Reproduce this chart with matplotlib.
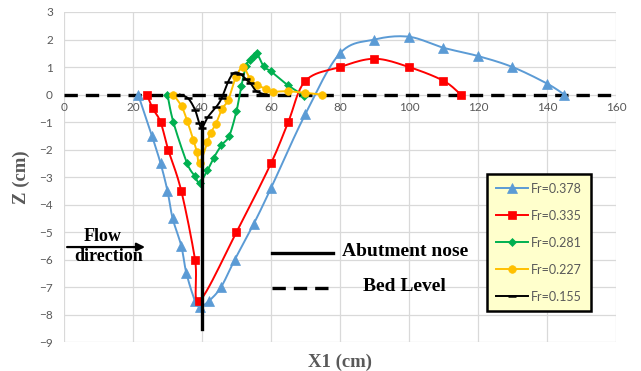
import numpy as np
import matplotlib
matplotlib.use('Agg')
import matplotlib.pyplot as plt

#%% data

x_378 = [21.5, 25.5, 28, 30, 31.5, 34, 35.5, 38, 39.5, 42, 45.5, 49.5, 55, 60, 70,
         80, 90, 100, 110, 120, 130, 140, 145]
z_378 = [0, -1.5, -2.5, -3.5, -4.5, -5.5, -6.5, -7.5, -7.7, -7.5, -7.0, -6.0, -4.7,
         -3.4, -0.7, 1.5, 2.0, 2.1, 1.7, 1.4, 1.0, 0.4, 0]

x_335 = [24, 25.7, 28, 30.2, 34, 38, 39.2, 50, 60, 65, 70, 80, 90, 100, 110, 115]
z_335 = [0, -0.5, -1.0, -2.0, -3.5, -6.0, -7.5, -5.0, -2.5, -1.0, 0.5, 1.0, 1.3,
         1.0, 0.5, 0]

x_281 = [30, 31.7, 35.7, 37.9, 39.3, 41.6, 43.4, 45.6, 47.9, 50, 51.4, 52.8, 54,
         55, 55.9, 57.9, 60, 64.8, 69.7]
z_281 = [0, -1.0, -2.5, -2.95, -3.2, -2.75, -2.3, -1.85, -1.5, -0.6, 0.3, 1.05,
         1.25, 1.4, 1.5, 1.02, 0.84, 0.35, -0.05]

x_227 = [31.7, 34.1, 35.7, 37.5, 38.5, 39.3, 41.6, 42.5, 44, 45.8, 47.6, 49.8,
         51.9, 53.9, 56, 58.5, 60.5, 65, 70, 74.7]
z_227 = [0, -0.43, -0.95, -1.65, -2.07, -2.5, -1.72, -1.4, -1.07, -0.52, -0.2,
         0.62, 1.0, 0.58, 0.35, 0.21, 0.11, 0.12, 0.06, 0]

x_155 = [33.6, 36, 38, 39.2, 40, 41.8, 44.2, 45.7, 47.6, 49.2, 51, 52.8, 54, 55.7, 57.8]
z_155 = [0, -0.14, -0.56, -1.04, -1.2, -0.8, -0.44, -0.13, 0.47, 0.78, 0.76,
         0.55, 0.42, 0.13, 0.02]

labels = ['Fr=0.378', 'Fr=0.335', 'Fr=0.281', 'Fr=0.227', 'Fr=0.155']
colors = ['#5B9BD5', '#FF0000', '#00B050', '#FFC000', '#000000']

nose_x = [40, 40]
nose_z = [-1.0, -8.5]
bed_x = [0, 160]
bed_z = [0, 0]

#%% helpers

def smooth(x, y, n=12):
    # excel style smoothed line (catmull-rom through the points)
    x = np.asarray(x, float)
    y = np.asarray(y, float)
    px = np.concatenate([[x[0]], x, [x[-1]]])
    py = np.concatenate([[y[0]], y, [y[-1]]])
    t = np.linspace(0, 1, n, endpoint=False)
    xs, ys = [], []
    for i in range(1, len(px) - 2):
        p0, p1, p2, p3 = px[i-1], px[i], px[i+1], px[i+2]
        q0, q1, q2, q3 = py[i-1], py[i], py[i+1], py[i+2]
        b1x, b1y = p1 + (p2 - p0)/6, q1 + (q2 - q0)/6
        b2x, b2y = p2 - (p3 - p1)/6, q2 - (q3 - q1)/6
        xs.append((1-t)**3*p1 + 3*(1-t)**2*t*b1x + 3*(1-t)*t**2*b2x + t**3*p2)
        ys.append((1-t)**3*q1 + 3*(1-t)**2*t*b1y + 3*(1-t)*t**2*b2y + t**3*q2)
    xs.append([x[-1]])
    ys.append([y[-1]])
    return np.concatenate(xs), np.concatenate(ys)

#%% plot

plt.rcParams.update({'font.family': 'Lato'})
gray = '#595959'
serif = 'Liberation Serif'
dash = (0, (4, 2.4))

fig = plt.figure(figsize=(6.41, 3.71), dpi=100)
ax = fig.add_axes([0.0998, 0.0774, 0.8612, 0.8903])

ax.plot(bed_x, bed_z, color='k', lw=2.4, ls=dash, zorder=2)

series = [(x_378, z_378, '^', 6.5), (x_335, z_335, 's', 5.5),
          (x_281, z_281, 'D', 4.0), (x_227, z_227, 'o', 5.5),
          (x_155, z_155, '_', 6.0)]
n = 12
for (xx, zz, mk, ms), lab, c in zip(series, labels, colors):
    sx, sz = smooth(xx, zz, n)
    ax.plot(sx, sz, color=c, lw=1.4, marker=mk, ms=ms, markevery=n,
            mew=1.8 if mk == '_' else 0.5, mec=c, label=lab, zorder=3)

ax.plot(nose_x, nose_z, color='k', lw=2.4, zorder=5)

ax.set_xlim(0, 160)
ax.set_ylim(-9, 3)
ax.set_xticks(np.arange(0, 161, 20))
ax.set_yticks(np.arange(-9, 4, 1))
ax.grid(True, color='#d9d9d9', lw=0.9)
ax.set_axisbelow(True)
for s in ['top', 'right', 'left']:
    ax.spines[s].set_visible(False)
ax.spines['bottom'].set_position(('data', 0))
ax.spines['bottom'].set_visible(False)
ax.tick_params(length=0, labelsize=8.5, labelcolor=gray)
ax.tick_params(axis='x', pad=5)
ax.tick_params(axis='y', pad=8)

ax.set_xlabel('X1 (cm)', fontfamily=serif, fontweight='bold', fontsize=13.5,
              color=gray)
ax.xaxis.set_label_coords(0.5, -0.035)
ax.set_ylabel('Z (cm)', fontfamily=serif, fontweight='bold', fontsize=13.5,
              color=gray)
ax.yaxis.set_label_coords(-0.062, 0.5)

# flow arrow
ax.annotate('', xy=(23.5, -5.54), xytext=(0.9, -5.54),
            arrowprops=dict(arrowstyle='-|>', color='k', lw=1.6,
                            mutation_scale=12, shrinkA=0, shrinkB=0))
ax.text(11.2, -5.16, 'Flow', fontfamily=serif, fontweight='bold', fontsize=13,
        ha='center', va='center')
ax.text(13, -5.89, 'direction', fontfamily=serif, fontweight='bold', fontsize=13,
        ha='center', va='center')

# annotation keys
ax.plot([60.2, 77.9], [-5.77, -5.77], color='k', lw=2.4)
ax.text(80.5, -5.71, 'Abutment nose', fontfamily=serif, fontweight='bold',
        fontsize=14, ha='left', va='center')
ax.plot([60.2, 77.9], [-7.04, -7.04], color='k', lw=2.4, ls=dash)
ax.text(98.6, -6.98, 'Bed Level', fontfamily=serif, fontweight='bold',
        fontsize=14, ha='center', va='center')

leg = ax.legend(loc='upper left', bbox_to_anchor=(0.766, 0.5096),
                borderaxespad=0, fontsize=9, labelspacing=1.2, numpoints=1,
                handlelength=2.6, handletextpad=0.25, borderpad=0.7,
                fancybox=False, framealpha=1, labelcolor=gray)
leg.get_frame().set_facecolor('#FFFFCC')
leg.get_frame().set_edgecolor('k')
leg.get_frame().set_linewidth(1.8)
leg.set_zorder(10)

fig.savefig('out.png', dpi=100)
